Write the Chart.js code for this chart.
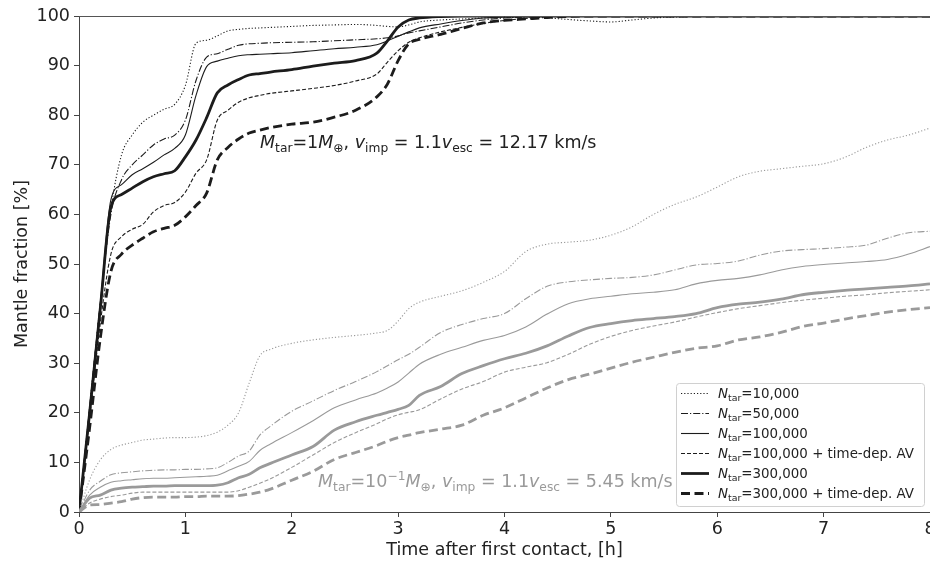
<!DOCTYPE html>
<html>
<head>
<meta charset="utf-8">
<script src="https://cdn.jsdelivr.net/npm/chart.js@4"></script>
<style>
  html, body { margin: 0; padding: 0; background: #fff; }
  #wrap { width: 930px; height: 565px; }
</style>
</head>
<body>
<div id="wrap"><canvas id="chart" width="930" height="565"></canvas></div>
<script>
// time grid [h]
const times = [0,0.1,0.2,0.3,0.4,0.5,0.6,0.7,0.8,0.9,1.0,1.1,1.2,1.3,1.4,1.5,1.6,1.7,1.8,2.0,2.2,2.4,2.6,2.8,2.9,3.0,3.1,3.2,3.4,3.6,3.8,4.0,4.2,4.4,4.6,4.8,5.0,5.2,5.4,5.6,5.8,6.0,6.2,6.4,6.6,6.8,7.0,7.2,7.4,7.6,7.8,8.0];

// M_tar = 1 M_earth (black)
const big10k   = [0,21,42,61,72,76,78.6,80,81.2,82.2,86,94.5,95.1,96,97,97.3,97.5,97.6,97.7,97.9,98.1,98.2,98.3,98.1,97.9,97.8,98.2,98.8,99.2,99.4,99.6,99.7,99.8,99.6,99.3,99.0,98.8,99.2,99.6,99.8,99.9,99.9,99.9,99.9,99.9,99.9,99.9,99.9,99.9,99.9,99.9,99.9];
const big50k   = [0,21,42,60,67,70,72,74,75.2,76,79,87,91.7,92.4,93.3,94.1,94.4,94.5,94.6,94.7,94.8,95,95.2,95.4,95.6,96,96.6,97,97.8,98.6,99.2,99.6,99.8,99.9,100,100,100,100,100,100,100,100,100,100,100,100,100,100,100,100,100,100];
const big100k  = [0,21,42,63,66,68,69.2,70.5,72,73.3,76,84,89.8,90.9,91.5,92,92.2,92.3,92.4,92.6,93,93.4,93.7,94.2,95,95.9,96.8,97.6,98.4,99.1,99.6,99.8,99.9,100,100,100,100,100,100,100,100,100,100,100,100,100,100,100,100,100,100,100];
const big100kAV= [0,19,38,52,55.5,57,58,60.5,61.8,62.4,64.5,68.3,71,79,81,82.6,83.5,84,84.4,84.9,85.4,86,86.9,88.3,90.7,93,94.7,95.6,96.8,97.7,98.5,99.1,99.5,99.8,99.9,100,100,100,100,100,100,100,100,100,100,100,100,100,100,100,100,100];
const big300k  = [0,20,41,61.5,64,65.3,66.6,67.6,68.2,68.8,71.6,75,79.5,84.5,86.1,87.2,88.1,88.4,88.7,89.2,89.9,90.5,91,92.5,95,97.8,99.2,99.6,99.9,100,100,100,100,100,100,100,100,100,100,100,100,100,100,100,100,100,100,100,100,100,100,100];
const big300kAV= [0,17,35,48.5,52,53.8,55.2,56.5,57.2,57.8,59.5,61.8,64.3,71,73.5,75.2,76.4,77,77.5,78.2,78.6,79.6,81,83.7,86.3,91,94.4,95.3,96.3,97.5,98.6,99.1,99.4,99.7,99.9,100,100,100,100,100,100,100,100,100,100,100,100,100,100,100,100,100];

// M_tar = 0.1 M_earth (grey)
const small10k   = [0,6.5,10.5,12.6,13.5,14,14.5,14.7,14.9,15,15,15.1,15.4,16.1,17.5,20,26,31.5,32.8,34,34.7,35.2,35.6,36.1,36.6,38.5,41,42.3,43.5,44.6,46.3,48.5,52.5,54,54.4,54.8,55.8,57.5,60,62,63.5,65.5,67.6,68.7,69.2,69.7,70.2,71.5,73.5,75,76,77.4];
const small50k   = [0,4.4,6.2,7.5,7.9,8.1,8.3,8.4,8.5,8.5,8.6,8.6,8.7,8.9,10,11.3,12.3,15.5,17.3,20.3,22.4,24.5,26.3,28.3,29.5,30.7,31.8,33.2,36.2,37.8,39,40,43,45.5,46.4,46.8,47.1,47.3,47.8,48.8,49.8,50.1,50.6,51.8,52.6,52.9,53.1,53.4,53.8,55.2,56.3,56.6];
const small100k  = [0,3.4,5,6,6.3,6.5,6.7,6.8,6.8,6.9,7,7.1,7.2,7.4,8.3,9.2,10.2,12.4,13.7,16,18.4,21,22.6,24,25,26.2,28,29.8,31.8,33.2,34.6,35.6,37.3,39.9,42,43,43.5,44,44.3,44.8,46,46.7,47.1,47.8,48.8,49.5,49.9,50.2,50.5,50.9,52,53.5];
const small100kAV= [0,1.8,2.6,3.1,3.4,3.8,4,4,4,4,4,4,4,4,4,4.3,5,5.8,6.7,9,11.5,14,16,17.8,18.8,19.6,20.1,20.6,22.8,24.8,26.3,28.2,29.2,30.1,31.8,33.8,35.4,36.6,37.5,38.3,39.3,40.2,41,41.6,42.2,42.7,43.1,43.5,43.8,44.2,44.5,44.8];
const small300k  = [0,2.8,3.4,4.4,4.8,5,5.1,5.2,5.2,5.3,5.3,5.3,5.3,5.4,5.9,6.9,7.6,8.9,9.8,11.5,13.2,16.5,18.2,19.5,20.1,20.7,21.5,23.5,25.3,27.9,29.5,30.9,32,33.5,35.5,37.2,38,38.6,39,39.4,40,41.2,41.9,42.3,42.9,43.8,44.3,44.7,45,45.3,45.6,46];
const small300kAV= [0,1.4,1.5,1.8,2.1,2.6,2.9,3,3,3,3.1,3.1,3.2,3.2,3.2,3.3,3.6,4,4.6,6.4,8.2,10.6,12,13.4,14.3,15,15.5,16,16.7,17.5,19.5,21,23,25,26.7,27.8,29,30.2,31.2,32.2,33,33.5,34.7,35.3,36.2,37.4,38.1,38.9,39.6,40.3,40.8,41.2];

const legendLabels = ['=10,000', '=50,000', '=100,000', '=100,000 + time-dep. AV', '=300,000', '=300,000 + time-dep. AV'];

const BLACK = '#1c1c1c';
const GREY = '#9a9a9a';

// line styles: dotted, dashdot, thin, thin dashed, thick, thick dashed
const styles = [
  {w: 1.1, dash: [1.2, 2]},
  {w: 1.1, dash: [7, 2, 1.2, 2]},
  {w: 1.1, dash: []},
  {w: 1.1, dash: [4, 2]},
  {w: 2.8, dash: []},
  {w: 2.8, dash: [9, 4.5]},
];

function mk(vals, color, i) {
  return {
    data: times.map((t, k) => ({x: t, y: vals[k]})),
    borderColor: color,
    borderWidth: styles[i].w,
    borderDash: styles[i].dash,
    pointRadius: 0,
    fill: false,
    cubicInterpolationMode: 'monotone',
  };
}

const datasets = [
  mk(small10k, GREY, 0), mk(small50k, GREY, 1), mk(small100k, GREY, 2),
  mk(small100kAV, GREY, 3), mk(small300k, GREY, 4), mk(small300kAV, GREY, 5),
  mk(big10k, BLACK, 0), mk(big50k, BLACK, 1), mk(big100k, BLACK, 2),
  mk(big100kAV, BLACK, 3), mk(big300k, BLACK, 4), mk(big300kAV, BLACK, 5),
];

const FONT = "'DejaVu Sans', sans-serif";

// draw text with italic / subscript / superscript parts
function rich(ctx, parts, x, y, size, color) {
  const fontOf = (k) => {
    const s = (k === 'b' || k === 'p') ? size * 0.7 : size;
    return (k === 'i' ? 'italic ' : '') + s + 'px ' + FONT;
  };
  let cx = x;
  ctx.fillStyle = color;
  ctx.textBaseline = 'alphabetic';
  ctx.textAlign = 'left';
  parts.forEach(p => {
    ctx.font = fontOf(p[1]);
    let dy = 0;
    if (p[1] === 'b') dy = size * 0.22;
    if (p[1] === 'p') dy = -size * 0.4;
    ctx.fillText(p[0], cx, y + dy);
    cx += ctx.measureText(p[0]).width;
  });
}

const extras = {
  id: 'extras',
  afterDraw(chart) {
    const ctx = chart.ctx;
    const a = chart.chartArea;
    ctx.save();
    // top spine
    ctx.strokeStyle = '#555';
    ctx.lineWidth = 1;
    ctx.beginPath();
    ctx.moveTo(a.left, a.top + 0.5);
    ctx.lineTo(a.right, a.top + 0.5);
    ctx.stroke();

    // annotations
    rich(ctx, [['M','i'],['tar','b'],['=1',''],['M','i'],['\u2295','b'],[', ',''],['v','i'],['imp','b'],[' = 1.1',''],['v','i'],['esc','b'],[' = 12.17 km/s','']],
      260, 148, 17.5, '#222');
    rich(ctx, [['M','i'],['tar','b'],['=10',''],['\u22121','p'],['M','i'],['\u2295','b'],[', ',''],['v','i'],['imp','b'],[' = 1.1',''],['v','i'],['esc','b'],[' = 5.45 km/s','']],
      318, 487, 17.5, GREY);

    // legend box
    const bx = 676.5, by = 383.5, bw = 248, bh = 123, r = 3;
    ctx.beginPath();
    ctx.moveTo(bx + r, by);
    ctx.arcTo(bx + bw, by, bx + bw, by + bh, r);
    ctx.arcTo(bx + bw, by + bh, bx, by + bh, r);
    ctx.arcTo(bx, by + bh, bx, by, r);
    ctx.arcTo(bx, by, bx + bw, by, r);
    ctx.closePath();
    ctx.fillStyle = 'rgba(255,255,255,0.85)';
    ctx.fill();
    ctx.strokeStyle = '#d0d0d0';
    ctx.stroke();

    legendLabels.forEach((lab, i) => {
      const yy = 393 + i * 20;
      ctx.strokeStyle = BLACK;
      ctx.lineWidth = styles[i].w;
      ctx.setLineDash(styles[i].dash);
      ctx.beginPath();
      ctx.moveTo(681, yy + 0.5);
      ctx.lineTo(709, yy + 0.5);
      ctx.stroke();
      ctx.setLineDash([]);
      rich(ctx, [['N','i'],['tar','b'],[lab,'']], 718, yy + 5, 13.4, '#222');
    });
    ctx.restore();
  }
};

const chart = new Chart(document.getElementById('chart'), {
  type: 'line',
  data: { datasets: datasets },
  options: {
    responsive: false,
    animation: false,
    devicePixelRatio: 1,
    layout: { padding: { top: 16, right: 0, left: 0, bottom: 0 }, autoPadding: false },
    plugins: { legend: { display: false }, tooltip: { enabled: false } },
    scales: {
      x: {
        type: 'linear', min: 0, max: 8,
        afterFit: (s) => { s.height = 53; s.paddingRight = 0; s.paddingLeft = 0; },
        ticks: { stepSize: 1, color: '#222', font: { family: FONT, size: 17.5 }, padding: 2, maxRotation: 0 },
        grid: { drawOnChartArea: false, drawTicks: true, tickLength: 5, color: '#444' },
        border: { color: '#444', width: 1 },
        title: { display: true, text: 'Time after first contact, [h]', color: '#222', font: { family: FONT, size: 17.5 }, padding: { top: 4, bottom: 4 } }
      },
      y: {
        min: 0, max: 100,
        afterFit: (s) => { s.width = 79; s.paddingTop = 0; s.paddingBottom = 0; },
        ticks: { stepSize: 10, color: '#222', font: { family: FONT, size: 17.5 }, padding: 4 },
        grid: { drawOnChartArea: false, drawTicks: true, tickLength: 5, color: '#444' },
        border: { color: '#444', width: 1 },
        title: { display: true, text: 'Mantle fraction [%]', color: '#222', font: { family: FONT, size: 17.5 }, padding: { top: 12, bottom: 12 } }
      }
    }
  },
  plugins: [extras]
});
</script>
</body>
</html>
